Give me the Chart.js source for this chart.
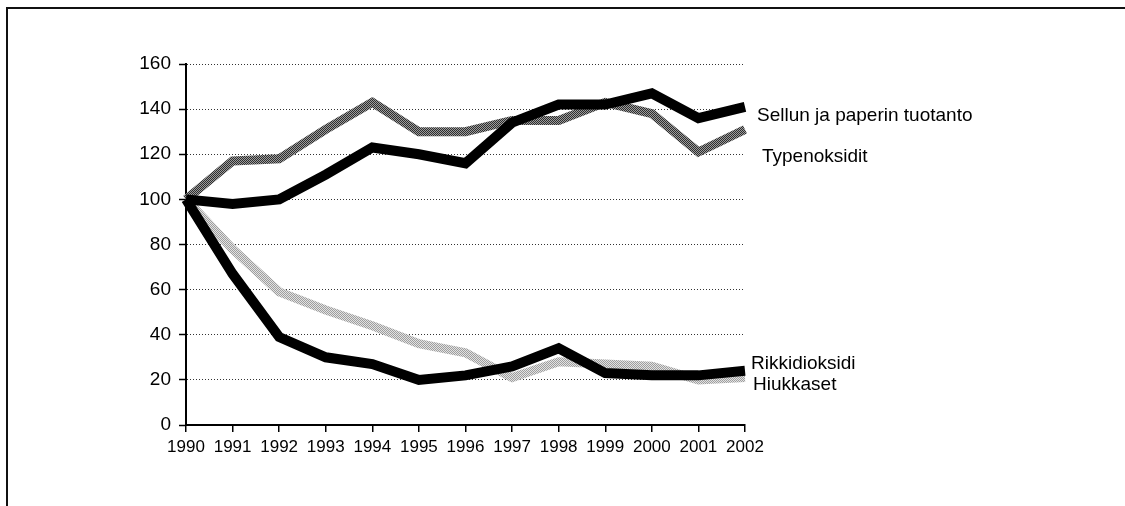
<!DOCTYPE html>
<html>
<head>
<meta charset="utf-8">
<script src="https://cdn.jsdelivr.net/npm/chart.js@4/dist/chart.umd.min.js"></script>
<style>
  html, body { margin: 0; padding: 0; background: #fff; }
  #c { display: block; }
</style>
</head>
<body>
<canvas id="c" width="1125" height="506"></canvas>
<script>
// ---- data ----
const years = ['1990','1991','1992','1993','1994','1995','1996','1997','1998','1999','2000','2001','2002'];
const selluValues   = [100, 98, 100, 111, 123, 120, 116, 134, 142, 142, 147, 136, 141];
const typenValues   = [100, 117, 118, 131, 143, 130, 130, 135, 135, 143, 138, 121, 131];
const rikkiValues   = [100, 67, 39, 30, 27, 20, 22, 26, 34, 23, 22, 22, 24];
const hiukValues    = [100, 78, 59, 51, 44, 36, 32, 21, 28, 27, 26, 20, 21];
const seriesNames   = ['Sellun ja paperin tuotanto', 'Typenoksidit', 'Rikkidioksidi', 'Hiukkaset'];
const labelValues   = [137, 119, 27, 18];   // vertical anchor (data units) of the end labels
const yTicks        = [0, 20, 40, 60, 80, 100, 120, 140, 160];

const FONT = "'Liberation Sans', Arial, sans-serif";

function dither(a, b) {
  const c = document.createElement('canvas');
  c.width = 2; c.height = 2;
  const g = c.getContext('2d');
  g.fillStyle = a; g.fillRect(0,0,2,2);
  g.fillStyle = b; g.fillRect(0,0,1,1); g.fillRect(1,1,1,1);
  return g.createPattern(c, 'repeat');
}
const ctx = document.getElementById('c').getContext('2d');
const darkPat = dither('#9c9c9c', '#2e2e2e');
const lightPat = dither('#e2e2e2', '#9e9e9e');

const framePlugin = {
  id: 'frame',
  beforeDraw(chart) {
    const c = chart.ctx;
    c.save();
    c.fillStyle = '#fff';
    c.fillRect(0, 0, chart.width, chart.height);
    c.strokeStyle = '#111';
    c.lineWidth = 2;
    c.beginPath();
    c.moveTo(7, 506); c.lineTo(7, 8); c.lineTo(1125, 8);
    c.stroke();
    c.restore();
  }
};

const endLabels = {
  id: 'endLabels',
  afterDatasetsDraw(chart) {
    const c = chart.ctx;
    const y = chart.scales.y;
    const right = chart.chartArea.right;
    const dx = [12, 17, 6, 8];
    c.save();
    c.fillStyle = '#000';
    c.font = '19px ' + FONT;
    c.textBaseline = 'middle';
    c.textAlign = 'left';
    seriesNames.forEach((n, i) => {
      c.fillText(n, right + dx[i], y.getPixelForValue(labelValues[i]));
    });
    c.restore();
  }
};

const common = { fill: false, tension: 0, pointRadius: 0, pointHoverRadius: 0, borderJoinStyle: 'miter', borderCapStyle: 'butt' };

new Chart(ctx, {
  type: 'line',
  data: {
    labels: years,
    datasets: [
      Object.assign({ label: seriesNames[0], data: selluValues, borderColor: '#000', borderWidth: 10 }, common),
      Object.assign({ label: seriesNames[2], data: rikkiValues, borderColor: '#000', borderWidth: 10 }, common),
      Object.assign({ label: seriesNames[1], data: typenValues, borderColor: darkPat, borderWidth: 9 }, common),
      Object.assign({ label: seriesNames[3], data: hiukValues, borderColor: lightPat, borderWidth: 9 }, common)
    ]
  },
  options: {
    responsive: false,
    animation: false,
    devicePixelRatio: 1,
    layout: { padding: { left: 0, top: 64, right: 380, bottom: 0 } },
    plugins: { legend: { display: false }, tooltip: { enabled: false } },
    scales: {
      x: {
        type: 'category',
        grid: { drawOnChartArea: false, drawTicks: true, tickLength: 7, color: '#000', lineWidth: 1.5 },
        border: { color: '#000', width: 2 },
        ticks: { color: '#000', font: { size: 17, family: FONT }, padding: 5, maxRotation: 0, autoSkip: false },
        afterFit(s) { s.height = 81; }
      },
      y: {
        min: 0, max: 160,
        afterBuildTicks(s) { s.ticks = yTicks.map(v => ({ value: v })); },
        grid: { color: '#333', lineWidth: 1, tickColor: '#000', tickLength: 7, tickWidth: 1.5, tickBorderDash: [] },
        border: { color: '#000', width: 2, dash: [1, 2] },
        ticks: { color: '#000', font: { size: 19, family: FONT }, padding: 8 },
        afterFit(s) { s.width = 186; }
      }
    }
  },
  plugins: [framePlugin, endLabels]
});
</script>
</body>
</html>
